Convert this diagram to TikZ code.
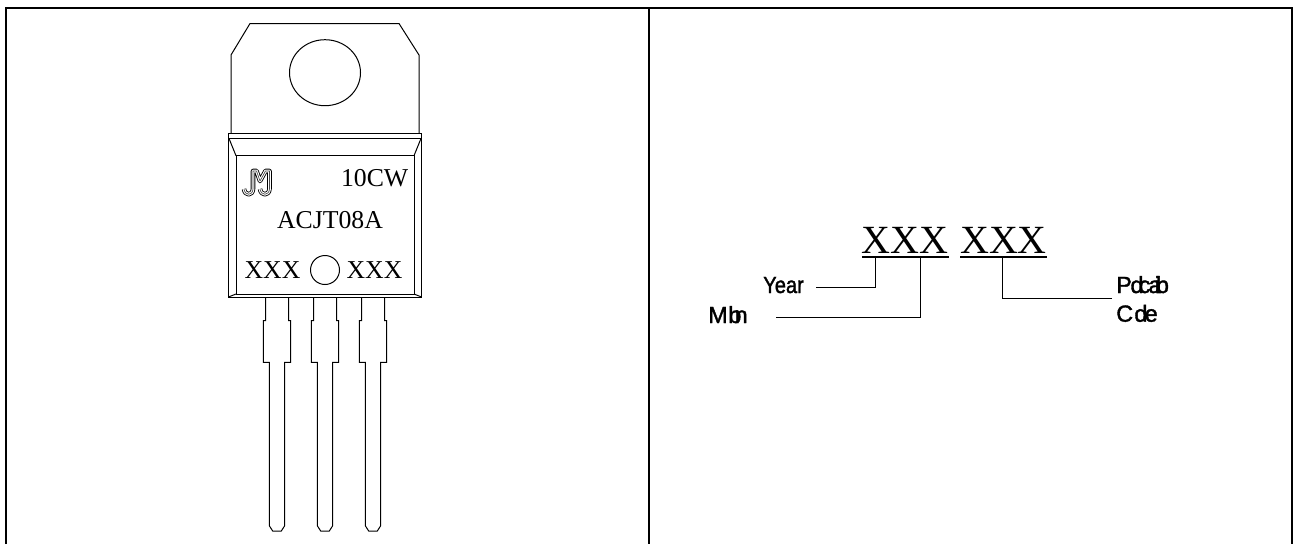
\documentclass[tikz,border=0pt]{standalone}
\usepackage{fontspec}
\setmainfont{Liberation Serif}
\newfontfamily\lblfont[AutoFakeBold=1.6]{Liberation Sans}
\newcommand{\logopath}{(244,189) .. controls (245,196) and (252.5,196) .. (253,189) -- (253,171) -- (256.5,171) -- (260,181) -- (265.5,171) -- (269.5,171) -- (269.5,189) .. controls (269,196) and (261,196) .. (260,189)}
\tikzset{
  x=0.75pt,y=-0.75pt,
  frameline/.style={line width=1.5pt,line cap=butt},
  part/.style={line width=0.75pt,line join=miter},
  lead/.style={line width=0.75pt,line join=miter},
  leader/.style={line width=0.7pt,line join=miter},
  marktext/.style={inner sep=0pt,font=\fontsize{19.3pt}{19.3pt}\selectfont,anchor=base},
  datecode/.style={inner sep=0pt,font=\fontsize{30pt}{30pt}\selectfont,anchor=base},
  lbl/.style={inner sep=0pt,font=\lblfont\bfseries\fontsize{17.5pt}{17.5pt}\selectfont,anchor=base west},
}
\begin{document}
\begin{tikzpicture}
\useasboundingbox (0,0) rectangle (1293,544);
\fill[white] (0,0) rectangle (1293,544);
% frame
\draw[frameline] (6,544) -- (6,8) -- (1292,8) -- (1292,544);
\draw[frameline] (649,8) -- (649,544);
% tab
\draw[part] (231,133) -- (231,55) -- (250,23.5) -- (399,23.5) -- (419,55) -- (419,133);
\draw[part] (325,72.7) ellipse (35.5 and 33);
% body
\draw[part] (228.5,133) rectangle (421.5,138.5);
\draw[part] (228.5,138.5) -- (228.5,297) -- (421.5,297) -- (421.5,138.5);
\draw[part] (236,155.7) rectangle (414,294);
\draw[part] (229,138.5) -- (236,155.7);
\draw[part] (421,138.5) -- (414,155.7);
\draw[part] (228.5,297) -- (236,294);
\draw[part] (421.5,297) -- (414,294);
% logo
\draw[line width=3.4pt,line join=round,black] \logopath;
\draw[line width=2.1pt,line join=round,white] \logopath;
\draw[line width=0.5pt,line join=round,black!70] \logopath;
% marking text
\node[marktext,anchor=base east] (cw) at (408.5,186) {10CW};
\node[marktext] (part) at (330,228) {ACJT08A};
\node[marktext] (xl) at (272.5,278) {XXX};
\node[marktext] (xr) at (374.5,278) {XXX};
\draw[part] (325,270) circle (14.5);
% leads
\foreach \c/\n in {277/a,325/b,373/c}{
  \draw[lead] (\c-11.5,297) -- (\c-11.5,320.7) -- (\c-13.7,320.7) -- (\c-13.7,362.3) -- (\c-7.7,362.3) -- (\c-7.7,525.7) -- (\c-4.3,531) -- (\c+4.3,531) -- (\c+7.7,525.7) -- (\c+7.7,362.3) -- (\c+13.7,362.3) -- (\c+13.7,320.7) -- (\c+11.5,320.7) -- (\c+11.5,297);
}
% date code
\node[datecode] (d1) at (905,253.7) {XXX};
\node[datecode] (d2) at (1003.5,253.7) {XXX};
\draw[line width=0.8pt] (862,257) -- (949,257);
\draw[line width=0.8pt] (960,257) -- (1047,257);
% leaders
\coordinate (yl) at (816,287.7);
\coordinate (ml) at (776,317);
\coordinate (pl) at (1112,298);
\coordinate (yu) at (875.7,257);
\coordinate (mu) at (920,257);
\coordinate (pu) at (1002,257);
\draw[leader] (yl) -- (yl -| yu) -- (yu);
\draw[leader] (ml) -- (ml -| mu) -- (mu);
\draw[leader] (pl) -- (pl -| pu) -- (pu);
% labels
\node[lbl] (year) at (763,293) {\scalebox{.86}[1]{Year}};
\node[lbl] (month) at (708,323) {M\kern0.5pt b\kern-5pt n};
\node[lbl] (prod) at (1116,293) {P\kern-1pt d\kern-3.5pt c\kern-1.5pt a\kern-5pt i\kern-3pt b};
\node[lbl] (code) at (1116,321.7) {C\kern1pt d\kern-2pt e};
\end{tikzpicture}
\end{document}
